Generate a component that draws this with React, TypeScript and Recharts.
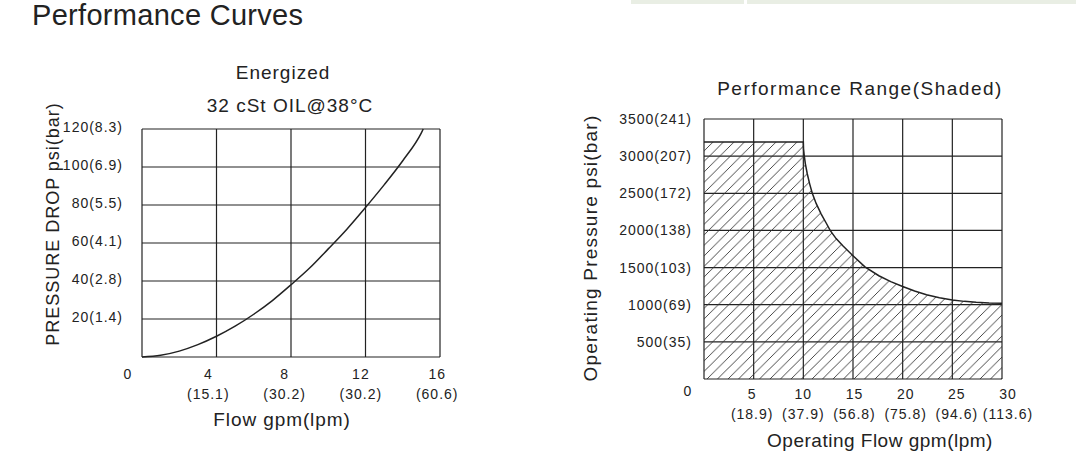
import React from 'react';
import { ComposedChart, Line, Area, XAxis, YAxis, CartesianGrid, Label } from 'recharts';

const FONT = '"Liberation Sans", Arial, sans-serif';
const INK = '#222';

// left chart - pressure drop vs flow (energized)
const dropFlow = [0, 1, 2, 3, 4, 5, 6, 7, 8, 9, 10, 11, 12, 13, 14, 15, 15.1];
const dropPsi = [0, 0.9, 3.1, 6.5, 10.9, 16.2, 22.5, 29.7, 38, 46.8, 56.9, 67.3, 78.7, 90.6, 103.3, 118, 120];
const dropXTicks = [0, 4, 8, 12, 16];
const dropXLpm = ['', '(15.1)', '(30.2)', '(30.2)', '(60.6)'];
const dropYTicks = [0, 20, 40, 60, 80, 100, 120];
const dropYLabels = ['', '20(1.4)', '40(2.8)', '60(4.1)', '80(5.5)', '100(6.9)', '120(8.3)'];

// right chart - operating envelope (shaded)
const rangeFlow = [0, 10, 10.02, 10.08, 10.2, 10.4, 10.65, 10.9, 11.3, 11.8, 12.3, 12.7, 13.3, 14, 15, 16.2, 17.6, 18.8, 20, 21.2, 22.4, 23.7, 25, 26.2, 27.4, 28.7, 30];
const rangePsi = [3190, 3190, 3100, 3020, 2900, 2760, 2620, 2500, 2360, 2220, 2100, 2000, 1890, 1790, 1660, 1510, 1390, 1310, 1245, 1185, 1135, 1095, 1065, 1045, 1032, 1024, 1020];
const rangeXTicks = [0, 5, 10, 15, 20, 25, 30];
const rangeXLpm = ['', '(18.9)', '(37.9)', '(56.8)', '(75.8)', '(94.6)', '(113.6)'];
const rangeYTicks = [0, 500, 1000, 1500, 2000, 2500, 3000, 3500];
const rangeYLabels = ['', '500(35)', '1000(69)', '1500(103)', '2000(138)', '2500(172)', '3000(207)', '3500(241)'];

const dropData = dropFlow.map((flow, i) => ({ flow, psi: dropPsi[i] }));
const rangeData = rangeFlow.map((flow, i) => ({ flow, psi: rangePsi[i] }));

const txt = { fontFamily: FONT, fill: INK, fontSize: 14, letterSpacing: 1 };

const DropXTick = (props: any) => {
  const { x, y, payload } = props;
  const v = payload.value;
  const i = dropXTicks.indexOf(v);
  if (v === 0) {
    return <text x={x - 14} y={y + 22} textAnchor="middle" {...txt}>0</text>;
  }
  // labels sit a little left of the grid lines in the original
  const lx = x - 10 + v * 0.45;
  return (
    <g>
      <text x={lx} y={y + 22} textAnchor="middle" {...txt}>{v}</text>
      <text x={lx} y={y + 42} textAnchor="middle" {...txt}>{dropXLpm[i]}</text>
    </g>
  );
};

const DropYTick = (props: any) => {
  const { x, y, payload } = props;
  const i = dropYTicks.indexOf(payload.value);
  return <text x={x - 19} y={y + 3} textAnchor="end" {...txt}>{dropYLabels[i]}</text>;
};

const RangeXTick = (props: any) => {
  const { x, y, payload } = props;
  const v = payload.value;
  const i = rangeXTicks.indexOf(v);
  if (v === 0) {
    return <text x={x - 16} y={y + 17} textAnchor="middle" {...txt}>0</text>;
  }
  const lx = x + (v - 10) * 0.3;
  return (
    <g>
      <text x={lx} y={y + 20} textAnchor="middle" {...txt}>{v}</text>
      <text x={lx} y={y + 40} textAnchor="middle" {...txt}>{rangeXLpm[i]}</text>
    </g>
  );
};

const RangeYTick = (props: any) => {
  const { x, y, payload } = props;
  const i = rangeYTicks.indexOf(payload.value);
  return <text x={x - 12} y={y + 5} textAnchor="end" {...txt}>{rangeYLabels[i]}</text>;
};

const title = (left: number, top: number, spacing = 1): React.CSSProperties => ({
  position: 'absolute',
  left,
  top,
  transform: 'translateX(-50%)',
  fontSize: 19,
  lineHeight: '20px',
  letterSpacing: spacing,
  whiteSpace: 'nowrap',
  color: INK,
});

export default function App() {
  return (
    <div style={{ position: 'absolute', left: 0, top: 0, width: 1079, height: 456, background: '#fff', fontFamily: FONT, overflow: 'hidden' }}>
      <svg width={0} height={0} style={{ position: 'absolute' }}>
        <defs>
          <pattern id="hatch" patternUnits="userSpaceOnUse" width={10.5} height={10.5}>
            <path d="M0,10.5 L10.5,0 M-2,2 L2,-2 M8.5,12.5 L12.5,8.5" stroke="#333" strokeWidth={0.9} />
          </pattern>
        </defs>
      </svg>

      <div style={{ position: 'absolute', left: 631, top: 0, width: 113, height: 4, background: '#e9eee4' }} />
      <div style={{ position: 'absolute', left: 747, top: 0, width: 329, height: 4, background: '#e9eee4' }} />

      <div style={{ position: 'absolute', left: 32, top: 1, fontSize: 29, lineHeight: '28px', letterSpacing: 0.3, color: INK, whiteSpace: 'nowrap' }}>
        Performance Curves
      </div>

      <div style={title(283, 63)}>Energized</div>
      <div style={title(290, 96)}>32 cSt OIL@38°C</div>
      <div style={title(860, 79, 1.5)}>Performance Range(Shaded)</div>

      <div style={{ position: 'absolute', left: 0, top: 0 }}>
        <ComposedChart width={540} height={456} data={dropData} margin={{ top: 129, right: 100, bottom: 29, left: 42 }}>
          <CartesianGrid stroke={INK} strokeWidth={1.2} />
          <XAxis
            dataKey="flow"
            type="number"
            domain={[0, 16]}
            ticks={dropXTicks}
            interval={0}
            height={70}
            tickSize={0}
            tickMargin={0}
            tickLine={false}
            axisLine={false}
            tick={DropXTick}
          >
            <Label
              content={() => (
                <text x={282} y={426} textAnchor="middle" fontFamily={FONT} fontSize={19} letterSpacing={0.9} fill={INK}>
                  Flow gpm(lpm)
                </text>
              )}
            />
          </XAxis>
          <YAxis
            type="number"
            domain={[0, 120]}
            ticks={dropYTicks}
            interval={0}
            width={100}
            tickSize={0}
            tickMargin={0}
            tickLine={false}
            axisLine={false}
            tick={DropYTick}
          >
            <Label
              content={() => (
                <text transform="translate(59,224) rotate(-90)" textAnchor="middle" fontFamily={FONT} fontSize={18} letterSpacing={1} fill={INK}>
                  PRESSURE DROP psi(bar)
                </text>
              )}
            />
          </YAxis>
          <Line dataKey="psi" type="monotone" stroke={INK} strokeWidth={1.5} dot={false} activeDot={false} isAnimationActive={false} />
        </ComposedChart>
      </div>

      <div style={{ position: 'absolute', left: 540, top: 0 }}>
        <ComposedChart width={539} height={456} data={rangeData} margin={{ top: 119, right: 77, bottom: 17, left: 64 }}>
          <CartesianGrid stroke={INK} strokeWidth={1.2} />
          <XAxis
            dataKey="flow"
            type="number"
            domain={[0, 30]}
            ticks={rangeXTicks}
            interval={0}
            height={60}
            tickSize={0}
            tickMargin={0}
            tickLine={false}
            axisLine={false}
            tick={RangeXTick}
          >
            <Label
              content={() => (
                <text x={340} y={447} textAnchor="middle" fontFamily={FONT} fontSize={19} letterSpacing={0.5} fill={INK}>
                  Operating Flow gpm(lpm)
                </text>
              )}
            />
          </XAxis>
          <YAxis
            type="number"
            domain={[0, 3500]}
            ticks={rangeYTicks}
            interval={0}
            width={100}
            tickSize={0}
            tickMargin={0}
            tickLine={false}
            axisLine={false}
            tick={RangeYTick}
          >
            <Label
              content={() => (
                <text transform="translate(57,248) rotate(-90)" textAnchor="middle" fontFamily={FONT} fontSize={19} letterSpacing={1.2} fill={INK}>
                  Operating Pressure psi(bar)
                </text>
              )}
            />
          </YAxis>
          <Area
            dataKey="psi"
            type="linear"
            baseValue={0}
            stroke={INK}
            strokeWidth={1.5}
            fill="url(#hatch)"
            fillOpacity={1}
            dot={false}
            activeDot={false}
            isAnimationActive={false}
          />
        </ComposedChart>
      </div>
    </div>
  );
}
